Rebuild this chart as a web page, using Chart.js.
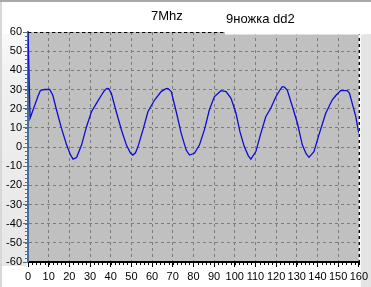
<!DOCTYPE html>
<html>
<head>
<meta charset="utf-8">
<script src="https://cdn.jsdelivr.net/npm/chart.js@4.4.1/dist/chart.umd.min.js"></script>
<style>
  html, body { margin: 0; padding: 0; background: #ffffff; overflow: hidden; }
  canvas { display: block; }
</style>
</head>
<body>
<canvas id="c" width="371" height="287"></canvas>
<script>
// ---- data ----
const titleLeft = "7Mhz";
const titleRight = "9ножка dd2";
const xValues = [0, 1, 3, 5, 6, 8, 10.5, 12, 13.8, 16.2, 18.7, 20.5, 21.8, 23.5, 25.9, 28.3, 30.7, 33.1, 35.5, 37, 38.2, 39, 40.3, 42.7, 45.2, 47.6, 49.5, 50.7, 52, 53.2, 55.6, 58, 61.2, 64.4, 66.5, 67.6, 69.3, 71.7, 74.1, 76.5, 78.1, 80.5, 82.9, 85.3, 87.7, 90.1, 93.3, 95.8, 98.2, 100.6, 102.5, 104.6, 106.5, 107.8, 110.2, 112.6, 115, 117.4, 119.9, 122, 123, 124, 125.4, 127.9, 130.3, 132.7, 134.5, 135.9, 138.3, 140.7, 144, 147.1, 149, 151.2, 154.4, 155.5, 156.8, 158.5, 160];
const yValues = [60, 15, 21, 27, 29.5, 30, 30, 27, 19.3, 9.7, 1, -4, -6.3, -5.5, 1, 10.6, 18.4, 22.8, 27, 29.5, 30.6, 30.5, 28, 18.4, 8.9, 1, -3, -4.2, -3, 0.2, 8.9, 18.4, 24.5, 28.9, 30.3, 30.6, 28.9, 18.4, 7.1, -1.6, -4.2, -3.3, 1, 8.9, 19.3, 26.2, 29.4, 28.9, 25.4, 17.6, 8, 0.2, -4.5, -6.3, -2.4, 7.1, 15.8, 20.2, 26.2, 30, 31.5, 31.3, 29.7, 21, 12.4, 1, -3.5, -5.4, -2.4, 6.3, 17.6, 24.5, 27, 29.4, 29.4, 28, 22.8, 16, 7.1];
const xTicks = [0, 10, 20, 30, 40, 50, 60, 70, 80, 90, 100, 110, 120, 130, 140, 150, 160];
const yTicks = [-60, -50, -40, -30, -20, -10, 0, 10, 20, 30, 40, 50, 60];

const points = xValues.map((x, i) => ({ x: x, y: yValues[i] }));

const frame = {
  id: 'frame',
  beforeDraw(chart) {
    const ctx = chart.ctx, W = chart.width, H = chart.height, a = chart.chartArea;
    ctx.save();
    ctx.fillStyle = '#ffffff';
    ctx.fillRect(0, 0, W, H);
    const g = ctx.createLinearGradient(0, 0, 0, H);
    g.addColorStop(0, '#ffffff');
    g.addColorStop(0.3, '#f0f0f0');
    g.addColorStop(1, '#e6e6e6');
    ctx.fillStyle = g;
    ctx.fillRect(0, 34, a.left - 2, a.bottom - 30);
    ctx.fillStyle = '#e4e4e4';
    ctx.fillRect(a.right + 2, 34, W - a.right - 2, H - 34);
    ctx.fillStyle = '#a8a8a8';
    ctx.fillRect(0, 0, W, 2);
    ctx.fillStyle = '#d8d8d8';
    ctx.fillRect(0, 2, 2, H);
    ctx.fillStyle = '#c0c0c0';
    ctx.fillRect(a.left, a.top, a.right - a.left, a.bottom - a.top);
    ctx.restore();
  },
  afterDraw(chart) {
    const ctx = chart.ctx, a = chart.chartArea;
    const xs = chart.scales.x, ys = chart.scales.y;
    ctx.save();
    ctx.strokeStyle = '#000000';
    ctx.lineWidth = 1;
    ctx.setLineDash([3, 3]);
    ctx.beginPath();
    ctx.moveTo(a.left, Math.round(a.top) + 0.5);
    ctx.lineTo(a.right, Math.round(a.top) + 0.5);
    ctx.moveTo(Math.round(a.right) + 0.5, a.top);
    ctx.lineTo(Math.round(a.right) + 0.5, a.bottom);
    ctx.stroke();
    ctx.setLineDash([]);
    ctx.strokeStyle = '#4a6f96';
    ctx.beginPath();
    for (let v = -60; v <= 60; v += 2) {
      const py = Math.round(ys.getPixelForValue(v)) + 0.5;
      ctx.moveTo(a.left - 3, py);
      ctx.lineTo(a.left, py);
    }
    ctx.stroke();
    ctx.strokeStyle = '#000000';
    ctx.beginPath();
    for (let v = 0; v <= 160; v += 2) {
      const px = Math.round(xs.getPixelForValue(v)) + 0.5;
      ctx.moveTo(px, a.bottom);
      ctx.lineTo(px, a.bottom + 3);
    }
    ctx.stroke();
    ctx.fillStyle = '#ffffff';
    ctx.fillRect(225, 8, 140, a.top - 5.5);
    ctx.fillStyle = '#000000';
    ctx.font = '13px "Liberation Sans", Arial, sans-serif';
    ctx.textBaseline = 'middle';
    ctx.textAlign = 'left';
    ctx.fillText(titleLeft, 151, 16);
    ctx.fillText(titleRight, 226, 19);
    ctx.restore();
  }
};

new Chart(document.getElementById('c'), {
  type: 'line',
  data: {
    datasets: [{
      data: points,
      borderColor: '#0c0cd2',
      borderWidth: 1.3,
      pointRadius: 0,
      tension: 0,
      fill: false
    }]
  },
  options: {
    responsive: false,
    animation: false,
    devicePixelRatio: 1,
    layout: { padding: { top: 32, right: 10, left: 0, bottom: 0 } },
    plugins: { legend: { display: false }, tooltip: { enabled: false }, title: { display: false } },
    scales: {
      x: {
        type: 'linear',
        min: 0, max: 160,
        afterBuildTicks(scale) { scale.ticks = xTicks.map(v => ({ value: v })); },
        afterFit(scale) { scale.height = 25; },
        ticks: {
          color: '#000000',
          font: { family: '"Liberation Sans", Arial, sans-serif', size: 11 },
          padding: 3,
          maxRotation: 0,
          autoSkip: false
        },
        grid: { color: '#7c7c7c', tickColor: '#000000', tickLength: 5, lineWidth: 1 },
        border: { display: true, color: '#000000', width: 2, dash: [3, 3] }
      },
      y: {
        type: 'linear',
        min: -60, max: 60,
        afterBuildTicks(scale) { scale.ticks = yTicks.map(v => ({ value: v })); },
        afterFit(scale) { scale.width = 28; },
        ticks: {
          color: '#000000',
          font: { family: '"Liberation Sans", Arial, sans-serif', size: 11 },
          padding: 1,
          autoSkip: false
        },
        grid: { color: '#7c7c7c', tickColor: '#4a6f96', tickLength: 5, lineWidth: 1 },
        border: { display: true, color: '#4a6f96', width: 2, dash: [3, 3] }
      }
    }
  },
  plugins: [frame]
});
</script>
</body>
</html>
